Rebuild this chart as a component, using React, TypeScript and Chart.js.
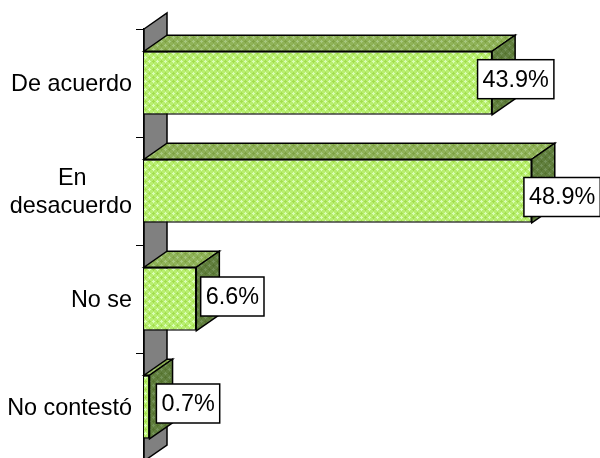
import React, { useEffect, useRef } from "react";
import { Chart, registerables } from "chart.js";

Chart.register(...registerables);

const categories = ["De acuerdo", "En desacuerdo", "No se", "No contestó"];
const shares = [43.9, 48.9, 6.6, 0.7];
const xMin = 0;
const xMax = 50;

const FONT = '"Liberation Sans", Arial, sans-serif';
const FONT_SIZE = 23.4;
const DEPTH_X = 23;
const DEPTH_Y = 16;
const LABEL_SHIFT_X = [23.6, 30.3, 36, 38.5];
const LABEL_SHIFT_Y = [-3.8, 6, -2.5, -3.5];

function makePattern(base: string, light: string, dark: string) {
  const tile = document.createElement("canvas");
  tile.width = 8;
  tile.height = 8;
  const c = tile.getContext("2d")!;
  c.fillStyle = base;
  c.fillRect(0, 0, 8, 8);
  const plus = (cx: number, cy: number) => {
    c.fillRect(cx - 1, cy, 3, 1);
    c.fillRect(cx, cy - 1, 1, 3);
  };
  c.fillStyle = dark;
  plus(5, 1);
  plus(1, 5);
  c.fillStyle = light;
  plus(1, 1);
  plus(5, 5);
  return c.createPattern(tile, "repeat")!;
}

function poly(ctx: CanvasRenderingContext2D, pts: number[][], fill: any) {
  ctx.beginPath();
  pts.forEach(([x, y], i) => (i ? ctx.lineTo(x, y) : ctx.moveTo(x, y)));
  ctx.closePath();
  ctx.fillStyle = fill;
  ctx.fill();
  ctx.strokeStyle = "#000";
  ctx.lineWidth = 1.5;
  ctx.stroke();
}

const box3d = {
  id: "box3d",
  beforeDatasetsDraw(chart: any) {
    const { ctx, chartArea } = chart;
    const { left, top, bottom } = chartArea;
    ctx.save();
    poly(ctx, [[left, top], [left + DEPTH_X, top - DEPTH_Y], [left + DEPTH_X, bottom - DEPTH_Y], [left, bottom]], "#808080");
    const topFill = makePattern("#8FB258", "#A8C880", "#7FA244");
    const sideFill = makePattern("#617F3E", "#75935A", "#55732F");
    chart.getDatasetMeta(0).data.forEach((bar: any) => {
      const { x, y, base, height } = bar.getProps(["x", "y", "base", "height"], true);
      const t = y - height / 2;
      const b = y + height / 2;
      poly(ctx, [[base, t], [base + DEPTH_X, t - DEPTH_Y], [x + DEPTH_X, t - DEPTH_Y], [x, t]], topFill);
      poly(ctx, [[x, t], [x + DEPTH_X, t - DEPTH_Y], [x + DEPTH_X, b - DEPTH_Y], [x, b]], sideFill);
    });
    ctx.restore();
  },
  afterDatasetsDraw(chart: any) {
    const { ctx } = chart;
    ctx.save();
    ctx.font = `${FONT_SIZE}px ${FONT}`;
    ctx.textAlign = "center";
    ctx.textBaseline = "middle";
    chart.getDatasetMeta(0).data.forEach((bar: any, i: number) => {
      const { x, y } = bar.getProps(["x", "y"], true);
      const text = `${shares[i].toFixed(1)}%`;
      const w = ctx.measureText(text).width + 10;
      const h = 39;
      const cx = x + LABEL_SHIFT_X[i];
      const cy = y + LABEL_SHIFT_Y[i];
      ctx.fillStyle = "#fff";
      ctx.fillRect(cx - w / 2, cy - h / 2, w, h);
      ctx.strokeStyle = "#000";
      ctx.lineWidth = 1.5;
      ctx.strokeRect(cx - w / 2, cy - h / 2, w, h);
      ctx.fillStyle = "#000";
      ctx.fillText(text, cx, cy + 1);
    });
    ctx.restore();
  },
};

export default function App() {
  const ref = useRef<HTMLCanvasElement>(null);
  useEffect(() => {
    const chart = new Chart(ref.current!, {
      type: "bar",
      data: {
        labels: categories,
        datasets: [
          {
            data: shares,
            backgroundColor: makePattern("#B8EE70", "#DAFFB8", "#A2DE4C"),
            borderColor: "#000",
            borderWidth: 1.5,
            barPercentage: 0.588,
            categoryPercentage: 1,
          },
        ],
      },
      options: {
        indexAxis: "y",
        responsive: false,
        animation: false,
        devicePixelRatio: 1,
        layout: { padding: { top: 29, right: 59.5, bottom: 1, left: 0 } },
        plugins: { legend: { display: false }, tooltip: { enabled: false } },
        scales: {
          x: { display: false, min: xMin, max: xMax },
          y: {
            afterFit(scale: any) {
              scale.width = 144;
              scale.paddingTop = 0;
              scale.paddingBottom = 0;
            },
            grid: { drawOnChartArea: false, drawTicks: true, tickLength: 8, color: "#000", lineWidth: 1 },
            border: { display: true, color: "#000", width: 1.5 },
            ticks: {
              color: "#000",
              padding: 4,
              labelOffset: 2,
              font: { family: FONT, size: FONT_SIZE, lineHeight: 1.2 },
              callback(value: any) {
                const label = categories[value as number];
                return label === "En desacuerdo" ? ["En\u00a0\u00a0\u00a0\u00a0\u00a0\u00a0\u00a0", "desacuerdo"] : label;
              },
            },
          },
        },
      },
      plugins: [box3d],
    } as any);
    return () => chart.destroy();
  }, []);
  return (
    <div style={{ position: "absolute", left: 0, top: 0, width: 600, height: 458, overflow: "hidden", background: "#fff" }}>
      <canvas ref={ref} width={600} height={462} style={{ display: "block" }} />
    </div>
  );
}
